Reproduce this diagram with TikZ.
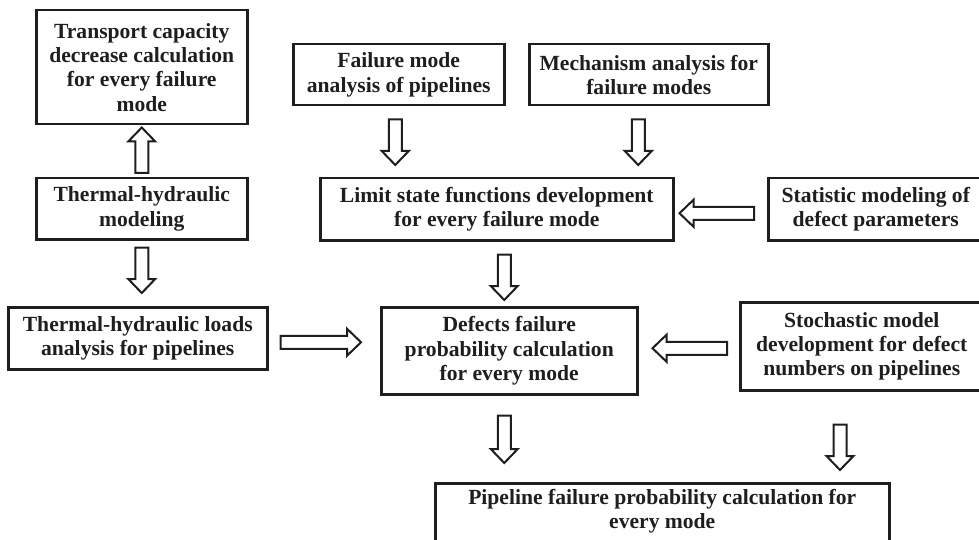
\documentclass[tikz,border=0pt]{standalone}
\usepackage{fontspec}
\setmainfont{Liberation Serif}
\usetikzlibrary{calc}
\definecolor{ink}{HTML}{1E1E1E}
\tikzset{
  box/.style={draw=ink, line width=2.5pt, text=ink,
    font=\fontsize{21.6}{24.4}\selectfont\bfseries, align=center,
    inner sep=0pt, anchor=north west},
  barrow/.style={draw=ink, line width=2pt, line join=miter, fill=white},
}
% hollow block arrow from #1 (tail) to #2 (tip)
\newcommand\blockarrow[2]{%
  \draw[barrow] let \p1=#1, \p2=#2, \p3=($(\p2)!14pt!(\p1)$) in
    ($(\p1)!6.5pt!90:(\p2)$) -- ($(\p3)!6.5pt!-90:(\p1)$) --
    ($(\p3)!13.5pt!-90:(\p1)$) -- (\p2) --
    ($(\p3)!13.5pt!90:(\p1)$) -- ($(\p3)!6.5pt!90:(\p1)$) --
    ($(\p1)!6.5pt!-90:(\p2)$) -- cycle;}
\begin{document}
\begin{tikzpicture}[x=1pt,y=-1pt]
\useasboundingbox (0,0) rectangle (979,540);
\clip (0,0) rectangle (979,540);

% boxes
\node[box, minimum width=211pt, minimum height=114pt] (tc) at (35,9)
  {Transport capacity\\decrease calculation\\for every failure\\mode};
\node[box, minimum width=211pt, minimum height=61pt] (th) at (35,177)
  {Thermal-hydraulic\\modeling};
\node[box, minimum width=259pt, minimum height=62pt] (thl) at (7,306)
  {Thermal-hydraulic loads\\analysis for pipelines};
\node[box, minimum width=211pt, minimum height=61pt] (fm) at (292,43)
  {Failure mode\\analysis of pipelines};
\node[box, minimum width=239pt, minimum height=61pt] (ma) at (528,43)
  {Mechanism analysis for\\failure modes};
\node[box, minimum width=353pt, minimum height=62pt] (ls) at (319,177)
  {Limit state functions development\\for every failure mode};
\node[box, minimum width=215pt, minimum height=62pt] (sm) at (767,177)
  {Statistic modeling of\\defect parameters};
\node[box, minimum width=256pt, minimum height=87pt] (dfp) at (380,306)
  {Defects failure\\probability calculation\\for every mode};
\node[box, minimum width=243pt, minimum height=88pt] (st) at (739,301)
  {Stochastic model\\development for defect\\numbers on pipelines};
\node[box, minimum width=454pt, inner ysep=6pt, text depth=80pt] (pf) at (434,482)
  {Pipeline failure probability calculation for\\every mode};

% connectors
\blockarrow{($(th.north)+(0,-4)$)}{($(tc.south)+(0,2)$)}
\blockarrow{($(th.south)+(0,7)$)}{($(th.south |- thl.north)+(0,-13)$)}
\blockarrow{($(fm.south)+(-3.5,13)$)}{($(fm.south |- ls.north)+(-3.5,-12)$)}
\blockarrow{($(ma.south)+(-10.5,13)$)}{($(ma.south |- ls.north)+(-10.5,-12)$)}
\blockarrow{($(sm.west)+(-13,4)$)}{($(sm.west -| ls.east)+(5,4)$)}
\blockarrow{($(ls.south)+(7.5,13)$)}{($(ls.south |- dfp.north)+(7.5,-6)$)}
\blockarrow{($(thl.east)+(12,4)$)}{($(thl.east -| dfp.west)+(-19,4)$)}
\blockarrow{($(st.west)+(-12,2)$)}{($(st.west -| dfp.east)+(14,2)$)}
\blockarrow{($(dfp.south)+(-5,20)$)}{($(dfp.south |- pf.north)+(-5,-19)$)}
\blockarrow{($(st.south west)+(101,33)$)}{($(st.south west |- pf.north)+(101,-12)$)}
\end{tikzpicture}
\end{document}
